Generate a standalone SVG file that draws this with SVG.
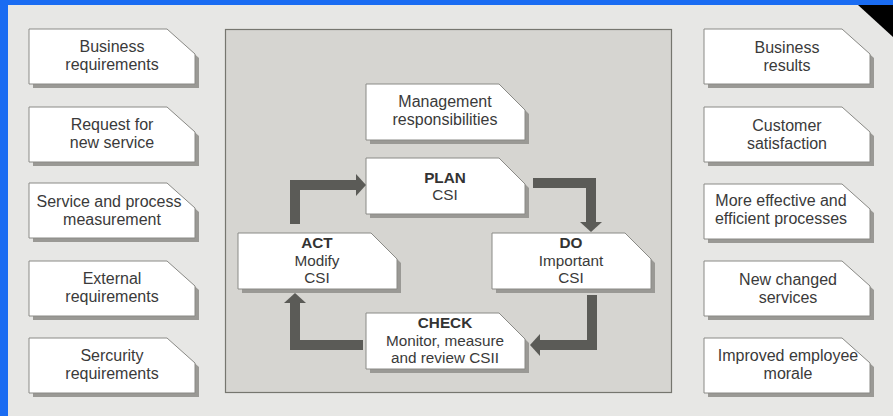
<svg xmlns="http://www.w3.org/2000/svg" xmlns:xlink="http://www.w3.org/1999/xlink" width="893" height="416" viewBox="0 0 893 416">
<style>
.box{fill:#ffffff;stroke:#8a8a86;stroke-width:1}
.shadow{fill:#9a9995;stroke:none}
.t{font-family:"Liberation Sans",Arial,sans-serif;font-size:16px;fill:#3a3a3a;text-anchor:middle}
.c{font-family:"Liberation Sans",Arial,sans-serif;font-size:15.3px;fill:#3a3a3a;text-anchor:middle}
.b{font-weight:bold;fill:#333333}
.arrow{fill:none;stroke:#5b5b57;stroke-width:10;stroke-linejoin:miter}
</style>
<defs>
<path id="shapeOuter" d="M0,0 H138 L166,25 V55 H0 Z"/>
<path id="shapeInner" d="M0,0 H133 L159,26 V56 H0 Z"/>
<marker id="head" markerUnits="userSpaceOnUse" markerWidth="12" markerHeight="24" refX="0" refY="11" orient="auto" viewBox="0 0 12 24">
<path d="M0,0 L10,11 L0,22 Z" fill="#5b5b57"/>
</marker>
</defs>
<rect x="0" y="0" width="893" height="416" fill="#1a6cf2"/>
<rect x="8" y="5" width="885" height="411" fill="#e7e7e5"/>
<polygon points="858,5 893,5 893,37" fill="#000000"/>
<rect id="panel" x="225.5" y="29.5" width="446" height="363" fill="#d6d5d1" stroke="#76766f" stroke-width="1.2"/>

<g id="n-business-req" transform="translate(29,29)"><use xlink:href="#shapeOuter" class="shadow" x="4" y="4"/><use xlink:href="#shapeOuter" class="box"/><text class="t" x="83" y="23">Business</text><text class="t" x="83" y="41">requirements</text></g>
<g id="n-request" transform="translate(29,107)"><use xlink:href="#shapeOuter" class="shadow" x="4" y="4"/><use xlink:href="#shapeOuter" class="box"/><text class="t" x="83" y="23">Request for</text><text class="t" x="83" y="41">new service</text></g>
<g id="n-measurement" transform="translate(29,183)"><use xlink:href="#shapeOuter" class="shadow" x="4" y="4"/><use xlink:href="#shapeOuter" class="box"/><text class="t" x="80" y="24">Service and process</text><text class="t" x="83" y="42">measurement</text></g>
<g id="n-external" transform="translate(29,261)"><use xlink:href="#shapeOuter" class="shadow" x="4" y="4"/><use xlink:href="#shapeOuter" class="box"/><text class="t" x="83" y="23">External</text><text class="t" x="83" y="41">requirements</text></g>
<g id="n-security" transform="translate(29,338)"><use xlink:href="#shapeOuter" class="shadow" x="4" y="4"/><use xlink:href="#shapeOuter" class="box"/><text class="t" x="83" y="23">Sercurity</text><text class="t" x="83" y="41">requirements</text></g>

<g id="n-business-res" transform="translate(704,29)"><use xlink:href="#shapeOuter" class="shadow" x="4" y="4"/><use xlink:href="#shapeOuter" class="box"/><text class="t" x="83" y="24">Business</text><text class="t" x="83" y="42">results</text></g>
<g id="n-customer" transform="translate(704,107)"><use xlink:href="#shapeOuter" class="shadow" x="4" y="4"/><use xlink:href="#shapeOuter" class="box"/><text class="t" x="83" y="24">Customer</text><text class="t" x="83" y="42">satisfaction</text></g>
<g id="n-effective" transform="translate(704,184)"><use xlink:href="#shapeOuter" class="shadow" x="4" y="4"/><use xlink:href="#shapeOuter" class="box"/><text class="t" x="77" y="22">More effective and</text><text class="t" x="77" y="40">efficient processes</text></g>
<g id="n-services" transform="translate(704,261)"><use xlink:href="#shapeOuter" class="shadow" x="4" y="4"/><use xlink:href="#shapeOuter" class="box"/><text class="t" x="84" y="24">New changed</text><text class="t" x="84" y="42">services</text></g>
<g id="n-morale" transform="translate(704,338)"><use xlink:href="#shapeOuter" class="shadow" x="4" y="4"/><use xlink:href="#shapeOuter" class="box"/><text class="t" x="84" y="23">Improved employee</text><text class="t" x="84" y="41">morale</text></g>

<g id="n-management" transform="translate(366,84)"><use xlink:href="#shapeInner" class="shadow" x="4" y="4"/><use xlink:href="#shapeInner" class="box"/><text class="t" x="79" y="23">Management</text><text class="t" x="79" y="41">responsibilities</text></g>
<g id="n-plan" transform="translate(366,158)"><use xlink:href="#shapeInner" class="shadow" x="4" y="4"/><use xlink:href="#shapeInner" class="box"/><text class="c b" x="79" y="25">PLAN</text><text class="c" x="79" y="42">CSI</text></g>
<g id="n-act" transform="translate(238,233)"><use xlink:href="#shapeInner" class="shadow" x="4" y="4"/><use xlink:href="#shapeInner" class="box"/><text class="c b" x="79" y="15">ACT</text><text class="c" x="79" y="33">Modify</text><text class="c" x="79" y="50">CSI</text></g>
<g id="n-do" transform="translate(492,233)"><use xlink:href="#shapeInner" class="shadow" x="4" y="4"/><use xlink:href="#shapeInner" class="box"/><text class="c b" x="79" y="15">DO</text><text class="c" x="79" y="33">Important</text><text class="c" x="79" y="50">CSI</text></g>
<g id="n-check" transform="translate(366,313)"><use xlink:href="#shapeInner" class="shadow" x="4" y="4"/><use xlink:href="#shapeInner" class="box"/><text class="c b" x="79" y="15">CHECK</text><text class="c" x="79" y="33">Monitor, measure</text><text class="c" x="79" y="50">and review CSII</text></g>

<g id="connectors">
<path class="arrow" d="M295,224 V185 H356" marker-end="url(#head)"/>
<path class="arrow" d="M533,183 H591 V222" marker-end="url(#head)"/>
<path class="arrow" d="M592,295 V345 H540" marker-end="url(#head)"/>
<path class="arrow" d="M363,345 H295 V303" marker-end="url(#head)"/>
</g>
</svg>
